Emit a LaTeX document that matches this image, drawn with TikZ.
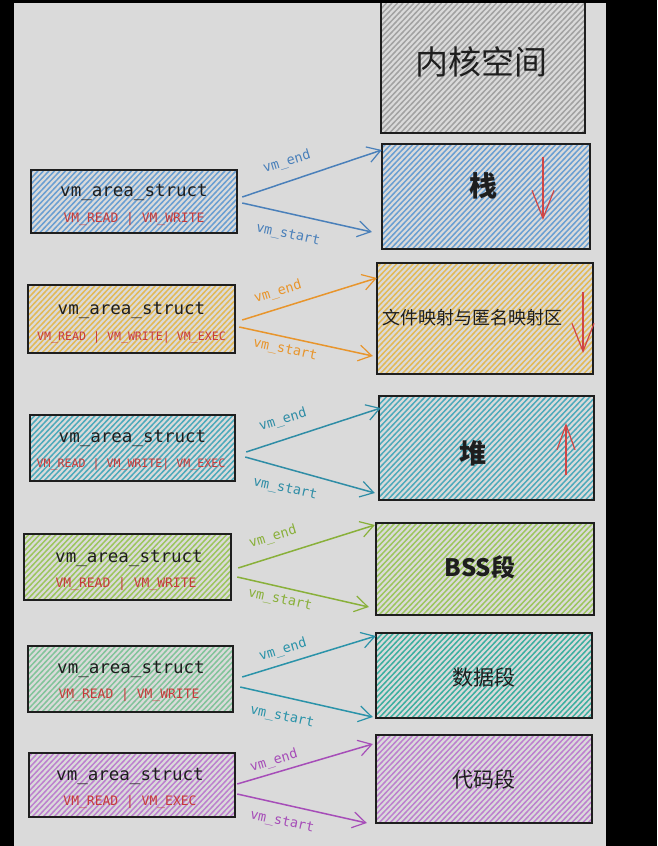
\documentclass[tikz,border=0pt]{standalone}
\usepackage{fontspec}
\newfontfamily\cjk{Noto Sans CJK SC}
\newfontfamily\mono{DejaVu Sans Mono}
\usetikzlibrary{arrows.meta,calc}
\definecolor{bgg}{HTML}{DADADA}
\definecolor{ink}{HTML}{1E1E1E}
\definecolor{redt}{HTML}{C73B3B}
\definecolor{reda}{HTML}{D04545}
\definecolor{hgray}{HTML}{A2A2A2}
\definecolor{hblue}{HTML}{6A9FD2}
\definecolor{ablue}{HTML}{4A80BA}
\definecolor{horange}{HTML}{E2B957}
\definecolor{aorange}{HTML}{E8952C}
\definecolor{hteal}{HTML}{4DAABB}
\definecolor{ateal}{HTML}{2F8DA6}
\definecolor{holive}{HTML}{9DC65E}
\definecolor{aolive}{HTML}{89B03A}
\definecolor{hmint}{HTML}{82C49A}
\definecolor{hsea}{HTML}{3DAFA0}
\definecolor{asea}{HTML}{2A93A9}
\definecolor{hpurple}{HTML}{BD80CF}
\definecolor{apurple}{HTML}{A64DB8}
\newcommand\hatchrect[5]{%
  \begin{scope}
    \clip (#1,#2) rectangle (#3,#4);
    \foreach \k in {0,5.5,...,380}{\draw[line width=1.5pt,#5] ({#1-140+\k},#4) -- ++({0.95*(#4-#2)},{-(#4-#2)});}
  \end{scope}}
\tikzset{
  boxline/.style={draw=ink,line width=1.4pt},
  sname/.style={font=\mono\fontsize{17.5}{18}\selectfont,text=ink},
  sflag/.style={font=\mono\fontsize{13}{14}\selectfont,text=redt},
  sflagsm/.style={font=\mono\fontsize{11.6}{13}\selectfont,text=redt},
  lbl/.style={font=\mono\fontsize{13.5}{14}\selectfont,inner sep=0pt},
  conn/.style={line width=1.5pt,-{Straight Barb[length=13pt,width=16pt,line width=1.2pt]}},
  redarrow/.style={draw=reda,line width=1.3pt,-{Straight Barb[length=28pt,width=22pt,line width=1.2pt]}},
  seg/.style={font=\cjk,text=ink,inner sep=0pt},
}
\begin{document}
\begin{tikzpicture}[x=1pt,y=-1pt]
\useasboundingbox (0,0) rectangle (657,846);
\fill[black] (0,0) rectangle (657,846);
\fill[bgg] (14,3) rectangle (606,846);

% ---------- right column ----------
% kernel
\hatchrect{381}{3}{585}{133}{hgray}
\draw[boxline] (381,3) -- (381,133) -- (585,133) -- (585,3);
\node[seg,font=\cjk\fontsize{33}{36}\selectfont] (kern) at (481,62) {内核空间};
% stack
\hatchrect{382}{144}{590}{249}{hblue}
\draw[boxline] (382,144) rectangle (590,249);
\node[minimum width=208pt,minimum height=105pt,inner sep=0pt] (R1) at (486,196.5) {};
\node[seg,font=\cjk\bfseries\fontsize{28}{30}\selectfont] (t1) at (483,186) {栈};
% file mapping
\hatchrect{377}{263}{593}{374}{horange}
\draw[boxline] (377,263) rectangle (593,374);
\node[minimum width=216pt,minimum height=111pt,inner sep=0pt] (R2) at (485,318.5) {};
\node[seg,font=\cjk\fontsize{18}{20}\selectfont] (t2) at (472,318) {文件映射与匿名映射区};
% heap
\hatchrect{379}{396}{594}{500}{hteal}
\draw[boxline] (379,396) rectangle (594,500);
\node[minimum width=215pt,minimum height=104pt,inner sep=0pt] (R3) at (486.5,448) {};
\node[seg,font=\cjk\bfseries\fontsize{27}{30}\selectfont] (t3) at (473,453) {堆};
% bss
\hatchrect{376}{523}{594}{615}{holive}
\draw[boxline] (376,523) rectangle (594,615);
\node[minimum width=218pt,minimum height=92pt,inner sep=0pt] (R4) at (485,569) {};
\node[seg,font=\cjk\bfseries\fontsize{24}{26}\selectfont] (t4) at (480,567) {BSS段};
% data
\hatchrect{376}{633}{592}{718}{hsea}
\draw[boxline] (376,633) rectangle (592,718);
\node[minimum width=216pt,minimum height=85pt,inner sep=0pt] (R5) at (484,675.5) {};
\node[seg,font=\cjk\fontsize{21}{24}\selectfont] (t5) at (484,677) {数据段};
% code
\hatchrect{376}{735}{592}{823}{hpurple}
\draw[boxline] (376,735) rectangle (592,823);
\node[minimum width=216pt,minimum height=88pt,inner sep=0pt] (R6) at (484,779) {};
\node[seg,font=\cjk\fontsize{21}{24}\selectfont] (t6) at (484,779) {代码段};

% red growth arrows
\coordinate (s1a) at (543,157); \coordinate (s1b) at (543,220);
\draw[redarrow] (s1a) -- (s1b);
\coordinate (s2a) at (583,292); \coordinate (s2b) at (583,353);
\draw[redarrow] (s2a) -- (s2b);
\coordinate (s3a) at (566,475); \coordinate (s3b) at (566,423);
\draw[redarrow,-{Straight Barb[length=25pt,width=18pt,line width=1.2pt]}] (s3a) -- (s3b);

% ---------- left column ----------
\hatchrect{31}{170}{237}{233}{hblue}
\draw[boxline] (31,170) rectangle (237,233);
\node[minimum width=206pt,minimum height=63pt,inner sep=0pt] (L1) at (134,201.5) {};
\node[sname] at (134,192) {vm\_area\_struct};
\node[sflag] at (134,219) {VM\_READ | VM\_WRITE};

\hatchrect{28}{285}{235}{353}{horange}
\draw[boxline] (28,285) rectangle (235,353);
\node[minimum width=207pt,minimum height=68pt,inner sep=0pt] (L2) at (131.5,319) {};
\node[sname] at (131.5,310) {vm\_area\_struct};
\node[sflagsm] at (131.5,337) {VM\_READ | VM\_WRITE| VM\_EXEC};

\hatchrect{30}{415}{235}{481}{hteal}
\draw[boxline] (30,415) rectangle (235,481);
\node[minimum width=205pt,minimum height=66pt,inner sep=0pt] (L3) at (132.5,448) {};
\node[sname] at (132.5,438) {vm\_area\_struct};
\node[sflagsm] at (131,464) {VM\_READ | VM\_WRITE| VM\_EXEC};

\hatchrect{24}{534}{231}{600}{holive}
\draw[boxline] (24,534) rectangle (231,600);
\node[minimum width=207pt,minimum height=66pt,inner sep=0pt] (L4) at (127.5,567) {};
\node[sname] at (129,558) {vm\_area\_struct};
\node[sflag] at (126,584) {VM\_READ | VM\_WRITE};

\hatchrect{28}{646}{233}{712}{hmint}
\draw[boxline] (28,646) rectangle (233,712);
\node[minimum width=205pt,minimum height=66pt,inner sep=0pt] (L5) at (130.5,679) {};
\node[sname] at (131,669) {vm\_area\_struct};
\node[sflag] at (129,695) {VM\_READ | VM\_WRITE};

\hatchrect{29}{753}{235}{817}{hpurple}
\draw[boxline] (29,753) rectangle (235,817);
\node[minimum width=206pt,minimum height=64pt,inner sep=0pt] (L6) at (132,785) {};
\node[sname] at (130,776) {vm\_area\_struct};
\node[sflag] at (130,802) {VM\_READ | VM\_EXEC};

% ---------- connectors ----------
% row 1
\draw[conn,ablue] ($(L1.east)+(5,-4.5)$) -- ($(R1.west)+(0,-46.5)$);
\draw[conn,ablue] ($(L1.east)+(5,1.5)$) -- ($(R1.west)+(-10,35.5)$);
\node[lbl,text=ablue,rotate=17] at (287,162) {vm\_end};
\node[lbl,text=ablue,rotate=-12] at (288,235) {vm\_start};
% row 2
\draw[conn,aorange] ($(L2.east)+(7,1)$) -- ($(R2.west)+(0,-40.5)$);
\draw[conn,aorange] ($(L2.east)+(4,8)$) -- ($(R2.west)+(-4,37.5)$);
\node[lbl,text=aorange,rotate=17] at (278,292) {vm\_end};
\node[lbl,text=aorange,rotate=-12] at (285,350) {vm\_start};
% row 3
\draw[conn,ateal] ($(L3.east)+(11,4)$) -- ($(R3.west)+(2,-40)$);
\draw[conn,ateal] ($(L3.east)+(10,9)$) -- ($(R3.west)+(-4,45)$);
\node[lbl,text=ateal,rotate=17] at (283,420) {vm\_end};
\node[lbl,text=ateal,rotate=-12] at (285,489) {vm\_start};
% row 4
\draw[conn,aolive] ($(L4.east)+(7,1)$) -- ($(R4.west)+(-1,-44)$);
\draw[conn,aolive] ($(L4.east)+(6,10)$) -- ($(R4.west)+(-7,38)$);
\node[lbl,text=aolive,rotate=17] at (273,537) {vm\_end};
\node[lbl,text=aolive,rotate=-12] at (280,600) {vm\_start};
% row 5
\draw[conn,asea] ($(L5.east)+(9,-2)$) -- ($(R5.west)+(0,-39.5)$);
\draw[conn,asea] ($(L5.east)+(7,8)$) -- ($(R5.west)+(-3,41.5)$);
\node[lbl,text=asea,rotate=17] at (283,650) {vm\_end};
\node[lbl,text=asea,rotate=-12] at (282,717) {vm\_start};
% row 6
\draw[conn,apurple] ($(L6.east)+(2,-1)$) -- ($(R6.west)+(-3,-35)$);
\draw[conn,apurple] ($(L6.east)+(2,9)$) -- ($(R6.west)+(-9,44)$);
\node[lbl,text=apurple,rotate=17] at (274,761) {vm\_end};
\node[lbl,text=apurple,rotate=-12] at (282,822) {vm\_start};
\end{tikzpicture}
\end{document}
